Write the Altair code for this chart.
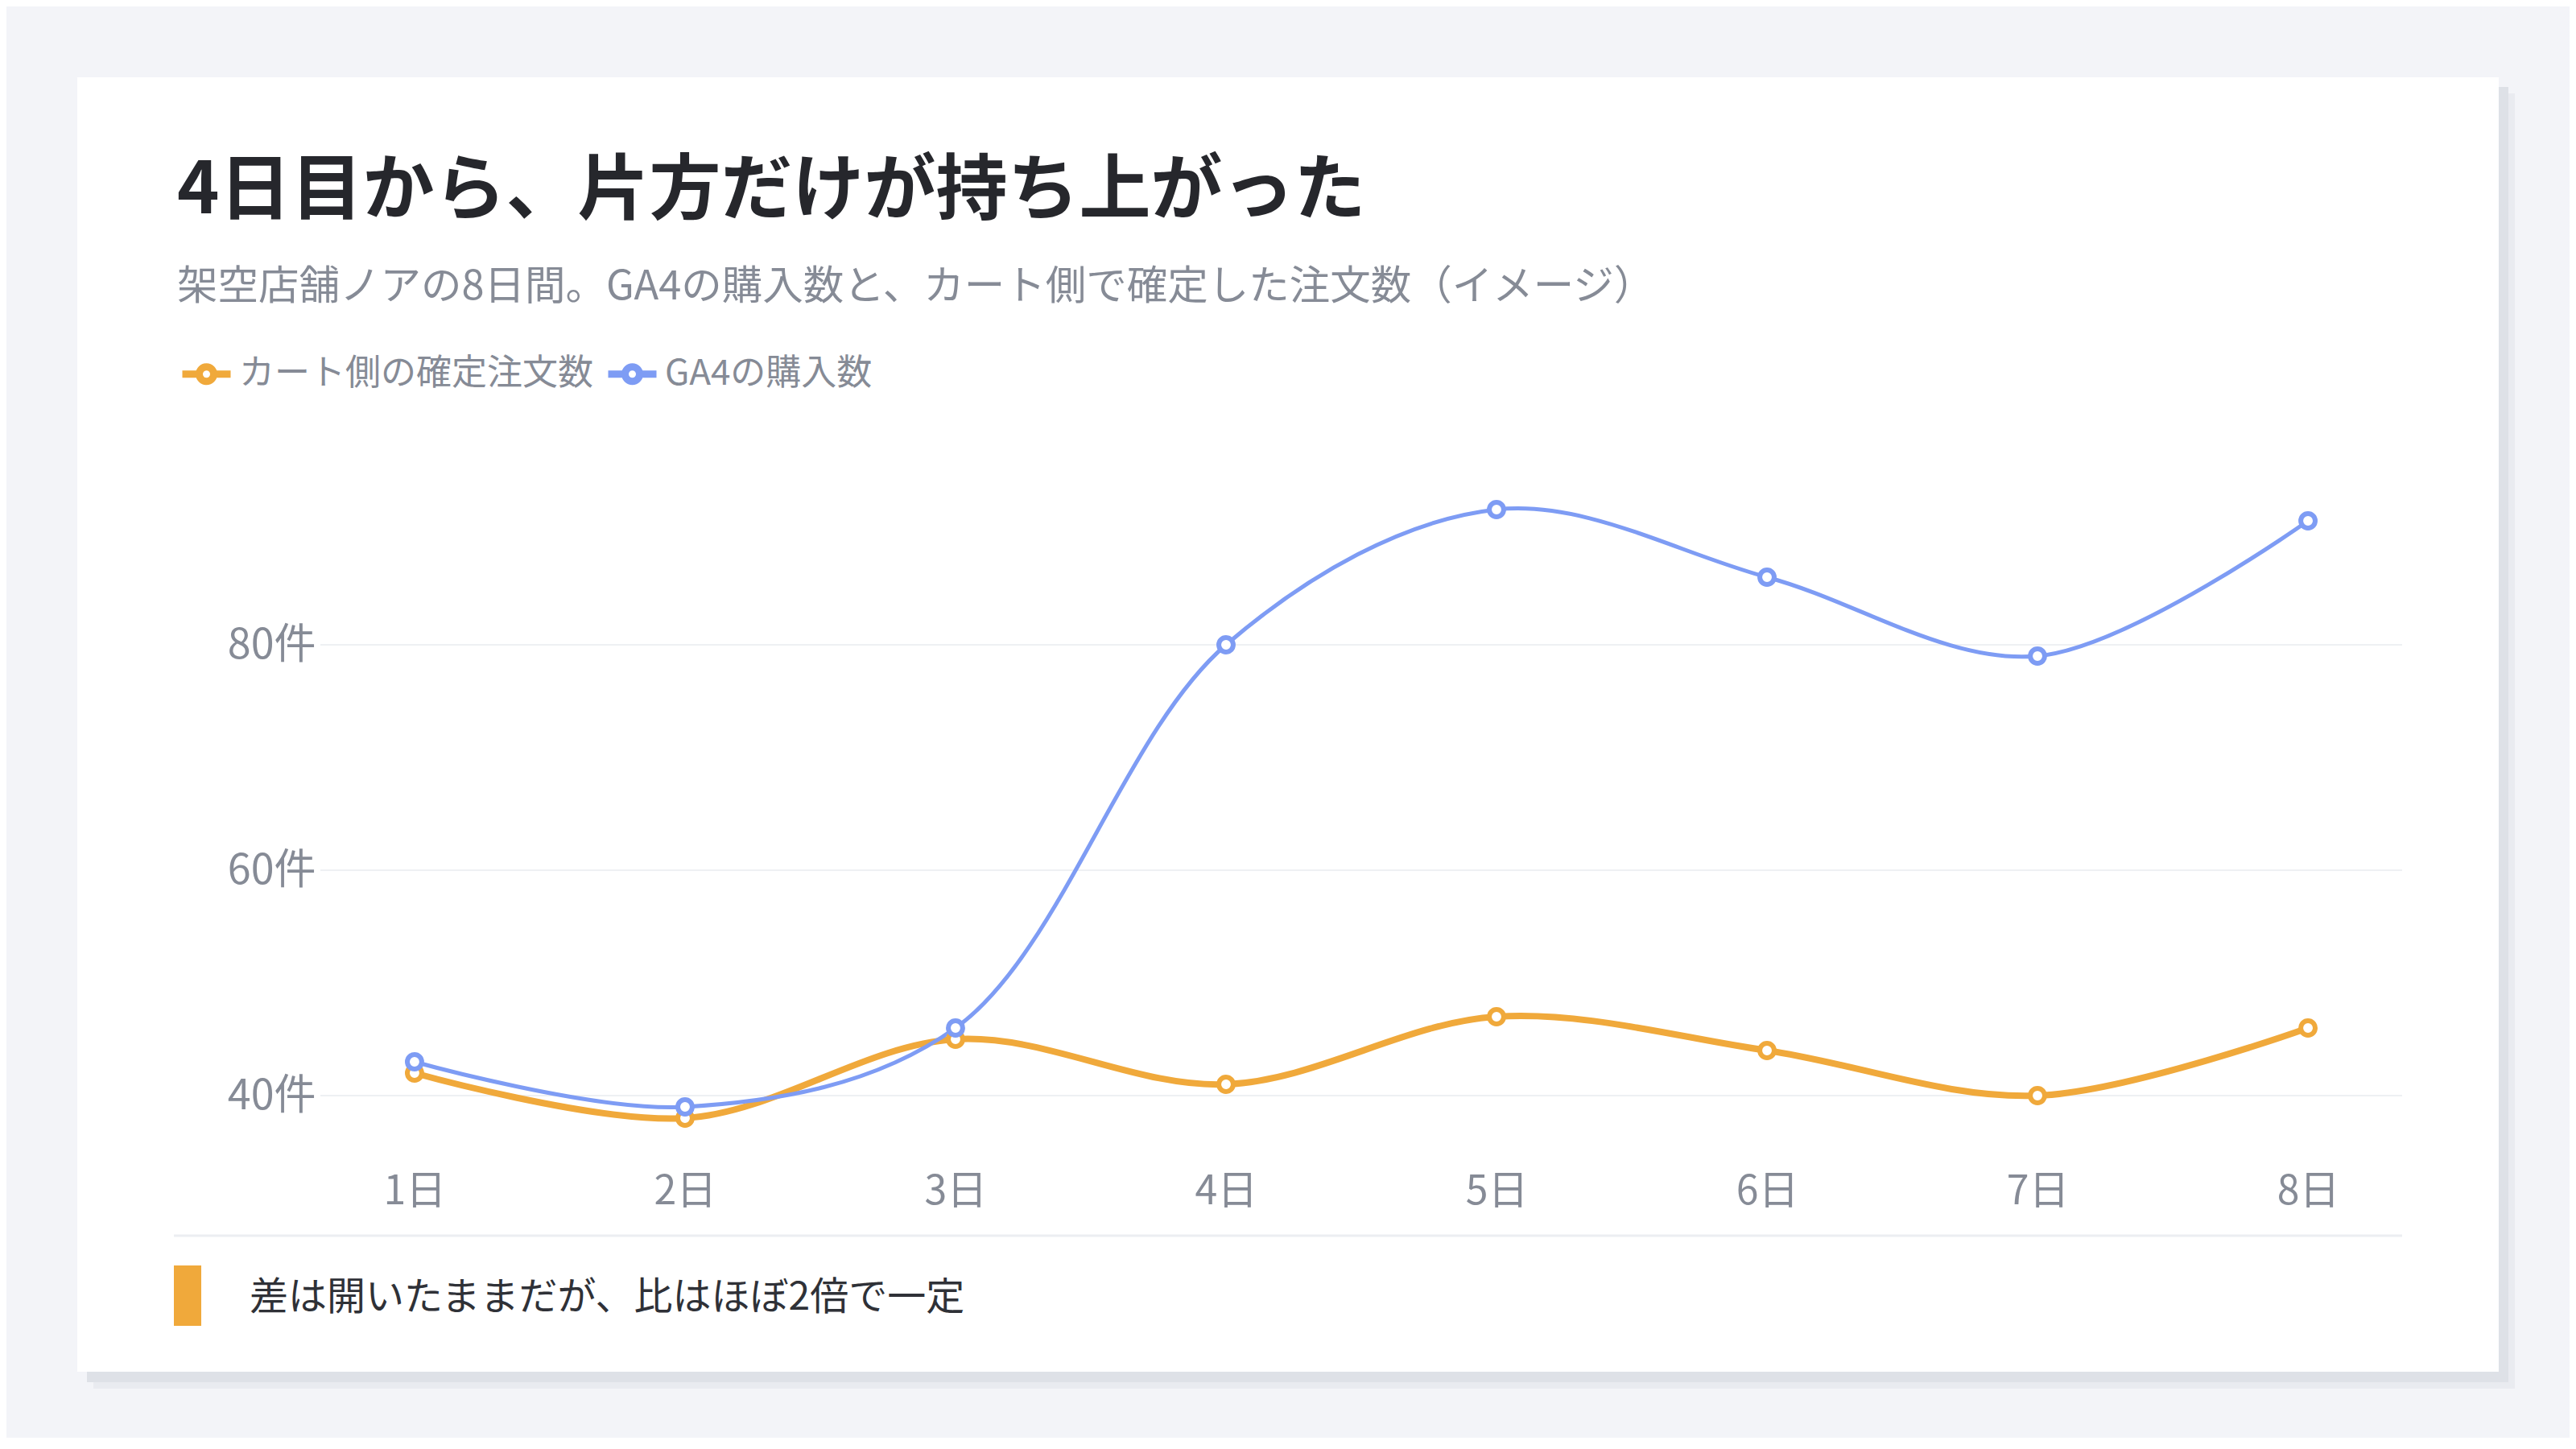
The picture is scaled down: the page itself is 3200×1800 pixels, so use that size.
import altair as alt
import pandas as pd

# values
days = ["1日", "2日", "3日", "4日", "5日", "6日", "7日", "8日"]
cart_orders = [42, 38, 45, 41, 47, 44, 40, 46]
ga4_purchases = [43, 39, 46, 80, 92, 86, 79, 91]
series_names = ["カート側の確定注文数", "GA4の購入数"]
series_colors = ["#f0a93b", "#7e9cf4"]
y_ticks = [40, 60, 80]

title_text = "4日目から、片方だけが持ち上がった"
subtitle_text = "架空店舗ノアの8日間。GA4の購入数と、カート側で確定した注文数（イメージ）"
note_text = "差は開いたままだが、比はほぼ2倍で一定"

FONT = "Noto Sans CJK JP"
GRAY = "#868b96"
W, H = 2586, 840

df = pd.DataFrame({
    "day": days * 2,
    "count": cart_orders + ga4_purchases,
    "series": [series_names[0]] * len(days) + [series_names[1]] * len(days),
})
one = alt.Data(values=[{}])
grid_df = pd.DataFrame({"count": y_ticks})

x_enc = alt.X(
    "day:O", sort=days,
    scale=alt.Scale(type="point", padding=0.348),
    axis=alt.Axis(title=None, labelAngle=0, ticks=False, domain=False, grid=False,
                  labelFont=FONT, labelFontSize=50, labelColor=GRAY,
                  labelPadding=24, zindex=1),
)
y_scale = alt.Scale(domain=[35, 95], nice=False, zero=False)
y_enc = alt.Y(
    "count:Q", scale=y_scale,
    axis=alt.Axis(title=None, values=y_ticks, labelExpr="datum.value + '件'",
                  grid=False, ticks=False, domain=False,
                  labelFont=FONT, labelFontSize=52, labelColor=GRAY,
                  labelPadding=6, zindex=1),
)
color_scale = alt.Scale(domain=series_names, range=series_colors)

# legend symbol: short line with a hollow circle in the middle
sym = "M-1,0H-0.3M0.3,0H1M-0.3,0A0.3,0.3,0,1,1,0.3,0A0.3,0.3,0,1,1,-0.3,0Z"

# card with shadow
shadow2 = alt.Chart(one).mark_rect(color="#e9ebf0").encode(
    x=alt.value(-282), x2=alt.value(2726), y=alt.value(-475), y2=alt.value(1134))
shadow1 = alt.Chart(one).mark_rect(color="#dee1e7").encode(
    x=alt.value(-290), x2=alt.value(2718), y=alt.value(-483), y2=alt.value(1126))
card = alt.Chart(one).mark_rect(color="white").encode(
    x=alt.value(-302), x2=alt.value(2706), y=alt.value(-495), y2=alt.value(1113))

grid = alt.Chart(grid_df).mark_rule(color="#eef0f3", strokeWidth=2).encode(y=y_enc)

legend = alt.Legend(
    title=None, orient="none", legendX=-176, legendY=-161,
    direction="horizontal", symbolType=sym, symbolSize=3600,
    symbolStrokeWidth=9, symbolFillColor="white",
    labelFont=FONT, labelFontSize=44, labelColor=GRAY,
    labelOffset=6, columnPadding=0, padding=0, labelLimit=0)

cart_line = alt.Chart(df).mark_line(interpolate="catmull-rom", strokeWidth=8).encode(
    x=x_enc, y=y_enc,
    color=alt.Color("series:N", scale=color_scale, legend=legend),
).transform_filter(alt.datum.series == series_names[0])
ga4_line = alt.Chart(df).mark_line(interpolate="catmull-rom", strokeWidth=5).encode(
    x=x_enc, y=y_enc,
    color=alt.Color("series:N", scale=color_scale, legend=legend),
).transform_filter(alt.datum.series == series_names[1])

points = alt.Chart(df).mark_point(shape="circle", filled=False, fill="white",
                                  fillOpacity=1, opacity=1, size=320, strokeWidth=6).encode(
    x=x_enc, y=y_enc,
    color=alt.Color("series:N", scale=color_scale, legend=None),
)

title = alt.Chart(one).mark_text(
    text=title_text, align="left", baseline="alphabetic", font=FONT,
    fontSize=89, fontWeight="bold", color="#26272c").encode(x=alt.value(-178), y=alt.value(-326))
subtitle = alt.Chart(one).mark_text(
    text=subtitle_text, align="left", baseline="alphabetic", font=FONT,
    fontSize=50.5, color=GRAY).encode(x=alt.value(-178), y=alt.value(-219))

sep = alt.Chart(one).mark_rule(color="#eceef2", strokeWidth=3).encode(
    x=alt.value(-182), x2=alt.value(2586), y=alt.value(944))
bar = alt.Chart(one).mark_rect(color="#f0a93b").encode(
    x=alt.value(-182), x2=alt.value(-148), y=alt.value(981), y2=alt.value(1056))
note = alt.Chart(one).mark_text(
    text=note_text, align="left", baseline="middle", font=FONT,
    fontSize=48, color="#2f3137").encode(x=alt.value(-88), y=alt.value(1022))

chart = alt.layer(
    shadow2, shadow1, card, grid, cart_line, ga4_line, points,
    title, subtitle, sep, bar, note
).properties(
    width=W, height=H,
    padding={"left": 390, "top": 583, "right": 208, "bottom": 355},
    autosize=alt.AutoSizeParams(type="none"),
    background="#f3f4f8",
).configure_view(stroke=None)

chart.save("out.html", embed_options={"renderer": "svg", "actions": False})
